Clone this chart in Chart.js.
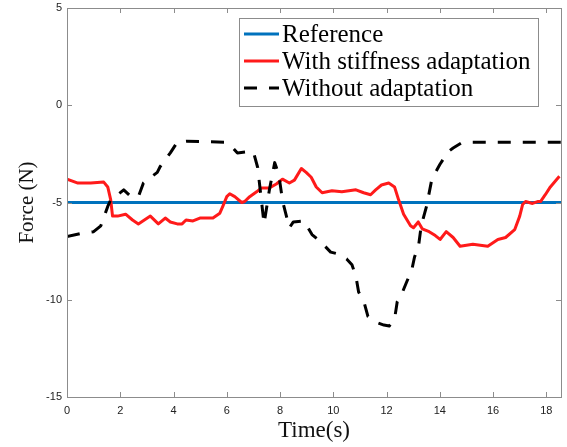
<!DOCTYPE html>
<html lang="en">
    <head>
        <meta charset="UTF-8">
        <title>Force tracking</title>
        <script src="https://cdn.jsdelivr.net/npm/chart.js"></script>
        <style>
            html, body { margin: 0; padding: 0; background: #fff; }
            #wrap { width: 567px; height: 447px; }
        </style>
    </head>
    <body>
        <div id="wrap"><canvas id="forceChart" width="567" height="447"></canvas></div>

        <script>
            // data
            const seriesLabels = ['Reference', 'With stiffness adaptation', 'Without adaptation'];

            const refTime = [0, 18.55];
            const refForce = [-5, -5];

            const adaptTime = [0, 0.41, 0.89, 1.38, 1.53, 1.64, 1.71, 1.9, 2.2, 2.46, 2.68, 3.13, 3.43, 3.69, 3.88,
                4.14, 4.32, 4.47, 4.73, 4.99, 5.48, 5.74, 5.85, 6.0, 6.11, 6.3, 6.56, 6.67, 6.86, 7.12, 7.3, 7.6,
                7.86, 8.09, 8.35, 8.54, 8.8, 8.98, 9.17, 9.36, 9.58, 9.95, 10.32, 10.85, 11.14, 11.4, 11.59, 11.81,
                12.08, 12.3, 12.45, 12.64, 12.9, 13.01, 13.19, 13.34, 13.6, 13.83, 14.01, 14.24, 14.5, 14.76, 15.24,
                15.8, 16.18, 16.47, 16.81, 17.0, 17.11, 17.22, 17.48, 17.67, 17.78, 17.96, 18.15, 18.49];
            const adaptForce = [-3.8, -4.0, -4.0, -3.95, -4.2, -4.85, -5.7, -5.7, -5.6, -5.9, -6.1, -5.7, -6.1, -5.8, -6.0,
                -6.1, -6.1, -5.9, -5.95, -5.8, -5.8, -5.55, -5.2, -4.7, -4.55, -4.7, -5.0, -4.95, -4.7, -4.45, -4.25, -4.25,
                -4.05, -3.8, -4.0, -3.85, -3.25, -3.45, -3.7, -4.2, -4.5, -4.4, -4.45, -4.35, -4.5, -4.6, -4.35, -4.1,
                -4.0, -4.2, -4.85, -5.6, -6.2, -6.3, -6.0, -6.35, -6.5, -6.7, -6.9, -6.5, -6.8, -7.25, -7.15,
                -7.25, -6.9, -6.8, -6.4, -5.7, -5.1, -4.95, -5.05, -4.95, -4.95, -4.6, -4.2, -3.65];

            const noAdaptTime = [0, 0.5, 1.0, 1.27, 1.53, 1.65, 1.9, 2.13, 2.4, 2.68, 2.87, 3.39, 3.5, 3.88, 4.14, 4.5,
                5.9, 6.2, 6.4, 6.75, 7.0, 7.16, 7.4, 7.6, 7.8, 7.95, 8.1, 8.35, 8.5, 8.9, 9.2, 9.55, 9.9, 10.2, 10.5,
                10.7, 10.85, 10.95, 11.15, 11.3, 11.6, 11.9, 12.1, 12.3, 12.4, 12.6, 12.75, 12.95, 13.05, 13.2, 13.3,
                13.5, 13.7, 14.0, 14.3, 14.5, 14.8, 15.0, 18.55];
            const noAdaptForce = [-6.75, -6.6, -6.5, -6.2, -5.2, -4.85, -4.6, -4.35, -4.7, -4.7, -4.0, -3.45, -3.15, -2.45, -1.9, -1.85,
                -1.9, -2.15, -2.45, -2.4, -2.4, -3.2, -6.1, -4.35, -2.95, -3.55, -4.95, -6.3, -6.0, -5.95, -6.65, -7.05, -7.55, -7.65, -7.9,
                -8.2, -8.8, -9.6, -10.1, -10.85, -11.15, -11.3, -11.35, -11.0, -10.1, -9.6, -9.1, -8.45, -7.8, -7.25, -6.2,
                -5.2, -3.8, -3.05, -2.4, -2.2, -1.95, -1.9, -1.9];

            const xTicks = [0, 2, 4, 6, 8, 10, 12, 14, 16, 18];
            const yTicks = [-15, -10, -5, 0, 5];

            function toPoints(xs, ys) {
                return xs.map((x, i) => ({x: x, y: ys[i]}));
            }

            const axisColor = '#8c8c8c';
            const serif = "'Liberation Serif', 'DejaVu Serif', serif";
            const sans = "'Liberation Sans', Arial, sans-serif";

            // box around the plot + inward ticks + legend inside the axes
            const matlabAxes = {
                id: 'matlabAxes',
                afterDraw(chart) {
                    const ctx = chart.ctx;
                    const a = chart.chartArea;
                    const xs = chart.scales.x, ys = chart.scales.y;
                    ctx.save();
                    ctx.strokeStyle = axisColor;
                    ctx.lineWidth = 1;
                    ctx.strokeRect(a.left + 0.5, a.top + 0.5, a.right - a.left, a.bottom - a.top);
                    ctx.beginPath();
                    xs.ticks.forEach(t => {
                        const px = Math.round(xs.getPixelForValue(t.value)) + 0.5;
                        ctx.moveTo(px, a.bottom); ctx.lineTo(px, a.bottom - 5);
                        ctx.moveTo(px, a.top); ctx.lineTo(px, a.top + 5);
                    });
                    ys.ticks.forEach(t => {
                        const py = Math.round(ys.getPixelForValue(t.value)) + 0.5;
                        ctx.moveTo(a.left, py); ctx.lineTo(a.left + 5, py);
                        ctx.moveTo(a.right, py); ctx.lineTo(a.right - 5, py);
                    });
                    ctx.stroke();

                    // legend
                    const lx = 239, ly = 18, lw = 299, lh = 88;
                    ctx.fillStyle = '#fff';
                    ctx.fillRect(lx, ly, lw, lh);
                    ctx.strokeStyle = axisColor;
                    ctx.strokeRect(lx + 0.5, ly + 0.5, lw, lh);
                    ctx.font = '25px ' + serif;
                    ctx.textBaseline = 'middle';
                    chart.data.datasets.forEach((ds, i) => {
                        const rowY = 34 + i * 27;
                        ctx.strokeStyle = ds.borderColor;
                        ctx.lineWidth = ds.borderWidth;
                        ctx.setLineDash(ds.borderDash || []);
                        ctx.beginPath();
                        ctx.moveTo(244, rowY);
                        ctx.lineTo(279, rowY);
                        ctx.stroke();
                        ctx.setLineDash([]);
                        ctx.fillStyle = '#000';
                        ctx.fillText(ds.label, 282, rowY + 1);
                    });
                    ctx.restore();
                }
            };

            const ctxForce = document.getElementById('forceChart').getContext('2d');
            new Chart(ctxForce, {
                type: 'line',
                data: {
                    datasets: [{
                            label: seriesLabels[0],
                            data: toPoints(refTime, refForce),
                            borderColor: '#0072BD',
                            borderWidth: 3,
                            order: 3
                        }, {
                            label: seriesLabels[1],
                            data: toPoints(adaptTime, adaptForce),
                            borderColor: '#ff1a1a',
                            borderWidth: 3,
                            order: 2
                        }, {
                            label: seriesLabels[2],
                            data: toPoints(noAdaptTime, noAdaptForce),
                            borderColor: '#000000',
                            borderWidth: 3,
                            borderDash: [13, 12],
                            order: 1
                        }]
                },
                options: {
                    responsive: false,
                    animation: false,
                    events: [],
                    layout: {padding: {left: 0, right: 6, top: 8, bottom: 0}},
                    elements: {
                        point: {radius: 0},
                        line: {tension: 0, borderCapStyle: 'butt', borderJoinStyle: 'round'}
                    },
                    plugins: {
                        legend: {display: false},
                        tooltip: {enabled: false}
                    },
                    scales: {
                        x: {
                            type: 'linear',
                            min: 0,
                            max: 18.55,
                            afterBuildTicks: scale => {
                                scale.ticks = xTicks.map(v => ({value: v}));
                            },
                            afterFit: scale => {
                                scale.height = 50;
                                scale.paddingLeft = 0;
                                scale.paddingRight = 0;
                            },
                            grid: {display: false, drawTicks: false},
                            border: {display: false},
                            ticks: {
                                padding: 7,
                                maxRotation: 0,
                                color: '#222',
                                font: {family: sans, size: 11}
                            },
                            title: {
                                display: true,
                                text: 'Time(s)',
                                color: '#111',
                                font: {family: serif, size: 23},
                                padding: {top: 0, bottom: 2}
                            }
                        },
                        y: {
                            min: -15,
                            max: 5,
                            afterBuildTicks: scale => {
                                scale.ticks = yTicks.map(v => ({value: v}));
                            },
                            afterFit: scale => {
                                scale.width = 67;
                                scale.paddingTop = 0;
                                scale.paddingBottom = 0;
                            },
                            grid: {display: false, drawTicks: false},
                            border: {display: false},
                            ticks: {
                                padding: 5,
                                color: '#222',
                                font: {family: sans, size: 11}
                            },
                            title: {
                                display: true,
                                text: 'Force (N)',
                                color: '#111',
                                font: {family: serif, size: 21},
                                padding: {top: 15, bottom: 0}
                            }
                        }
                    }
                },
                plugins: [matlabAxes]
            });
        </script>
    </body>
</html>
